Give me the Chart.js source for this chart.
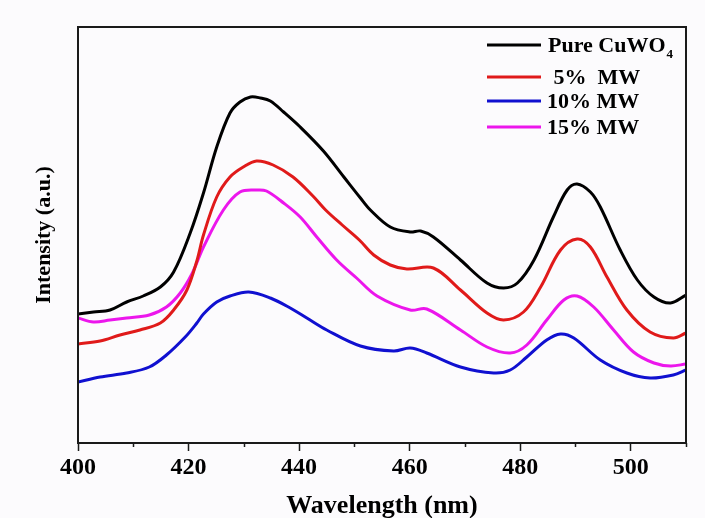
<!DOCTYPE html>
<html>
<head>
<meta charset="utf-8">
<script src="https://cdn.jsdelivr.net/npm/chart.js@4.4.1/dist/chart.umd.min.js"></script>
<style>
  html, body { margin: 0; padding: 0; background: #fcfbfd; }
  #wrap { width: 705px; height: 518px; position: relative; }
</style>
</head>
<body>
<div id="wrap"><canvas id="pl"></canvas></div>
<script>
// Wavelength ticks (nm)
var xMin = 400, xMax = 510;
var tickLabels = ['400', '420', '440', '460', '480', '500'];

// Pure CuWO4
var pureNm  = [400, 402.8, 405.8, 408.8, 411.8, 414.9, 417.3, 420.3, 422.7, 425.1, 427.5, 429.3, 431.2, 433, 434.8, 437.2, 440.2, 444.4, 448.1, 451.1, 452.9, 456.5, 460.1, 462, 464.3, 469.2, 474, 477, 479.5, 482.5, 486, 488.5, 490.3, 492.7, 494.5, 498.1, 501.2, 504.2, 507.2, 510];
var pureVal = [129, 131, 133, 141, 147, 156, 171, 210, 250, 296, 330, 341, 346, 345, 342, 331, 316, 292, 266, 245, 233, 216, 211, 212, 206, 183, 160, 155, 160, 183, 226, 253, 259, 251, 236, 193, 163, 146, 140, 148];

// 5% MW
var mw5Nm  = [400, 404, 407.6, 411.2, 414.9, 417.3, 419.7, 421.5, 422.7, 425.1, 427.5, 429.9, 432.3, 435.3, 438.9, 442.5, 444.8, 447.8, 450.9, 453.5, 456.5, 459.5, 464.3, 469.2, 474, 477, 480.6, 483.7, 487.3, 490.3, 492.7, 495.7, 499.3, 503.5, 507.7, 510];
var mw5Val = [99, 102, 108, 113, 120, 133, 153, 182, 208, 246, 266, 276, 282, 278, 266, 247, 233, 218, 203, 188, 178, 174, 175, 153, 130, 123, 131, 156, 193, 204, 196, 166, 133, 111, 105, 110];

// 10% MW
var mw10Nm  = [400, 404, 408.8, 412.9, 416, 419.4, 421.5, 422.7, 425.1, 427.5, 430.9, 434.8, 438.4, 441.4, 445, 451.1, 457.1, 460.1, 463.1, 469.2, 475.2, 478.2, 481.2, 484.8, 487.3, 489.7, 494.5, 499.3, 503.5, 507.7, 510];
var mw10Val = [61, 66, 70, 76, 88, 106, 120, 129, 141, 147, 151, 145, 135, 125, 113, 97, 92, 95, 90, 76, 70, 73, 86, 103, 109, 105, 83, 70, 65, 68, 73];

// 15% MW
var mw15Nm  = [400, 402.8, 405.8, 408.8, 412.9, 416, 418.5, 420.6, 422.7, 426.3, 429.3, 432.3, 434.1, 437.2, 440.2, 443.2, 446.8, 450.4, 454.1, 460.1, 463.1, 469.2, 474, 478.2, 481.2, 484.8, 487.9, 490.3, 493.3, 496.9, 500.5, 504.2, 507.2, 510];
var mw15Val = [125, 121, 123, 125, 128, 136, 150, 169, 196, 233, 251, 253, 252, 240, 226, 206, 183, 165, 147, 133, 134, 113, 96, 90, 98, 123, 143, 147, 136, 113, 91, 80, 77, 79];

var seriesLabels = ['Pure CuWO\u2084', ' 5%  MW', '10% MW', '15% MW'];
var seriesColors = ['#000000', '#e01a1a', '#1010d0', '#ec16ec'];

function pts(xs, ys) {
  return xs.map(function (x, i) { return { x: x, y: ys[i] }; });
}

var FONT = '"Liberation Serif", "Times New Roman", serif';

// frame around the plot + minor x ticks
var framePlugin = {
  id: 'frame',
  afterDraw: function (chart) {
    var c = chart.ctx, a = chart.chartArea, xs = chart.scales.x;
    c.save();
    c.strokeStyle = '#1a1a1a';
    c.lineWidth = 2;
    c.strokeRect(a.left, a.top, a.right - a.left, a.bottom - a.top);
    c.lineWidth = 1.5;
    for (var v = xMin + 10; v <= xMax; v += 20) {
      var px = Math.round(xs.getPixelForValue(v)) + 0.5;
      c.beginPath();
      c.moveTo(px, a.bottom);
      c.lineTo(px, a.bottom + 4);
      c.stroke();
    }
    c.restore();
  }
};

// legend at top right, with subscript
var legendPlugin = {
  id: 'sideLegend',
  afterDraw: function (chart) {
    var c = chart.ctx;
    var rows = [45, 77, 101, 127];
    var textX = [548, 548, 547, 547];
    c.save();
    chart.data.datasets.forEach(function (ds, i) {
      var y = rows[i];
      c.strokeStyle = ds.borderColor;
      c.lineWidth = 3;
      c.beginPath();
      c.moveTo(487, y);
      c.lineTo(541, y);
      c.stroke();
      c.fillStyle = '#000';
      c.textBaseline = 'middle';
      c.font = 'bold 22px ' + FONT;
      var txt = ds.label, sub = '';
      if (txt.indexOf('\u2084') >= 0) { txt = txt.replace('\u2084', ''); sub = '4'; }
      c.fillText(txt, textX[i], y + 1);
      if (sub) {
        var w = c.measureText(txt).width;
        c.font = 'bold 13px ' + FONT;
        c.fillText(sub, textX[i] + w + 1, y + 10);
      }
    });
    c.restore();
  }
};

var datasets = [
  pts(pureNm, pureVal), pts(mw5Nm, mw5Val), pts(mw10Nm, mw10Val), pts(mw15Nm, mw15Val)
].map(function (d, i) {
  return {
    label: seriesLabels[i],
    data: d,
    borderColor: seriesColors[i],
    backgroundColor: seriesColors[i],
    borderWidth: 3,
    pointRadius: 0,
    fill: false,
    tension: 0.35
  };
});

new Chart(document.getElementById('pl').getContext('2d'), {
  type: 'line',
  data: { datasets: datasets },
  options: {
    responsive: true,
    maintainAspectRatio: false,
    animation: false,
    layout: { padding: { left: 0, top: 27, right: 19, bottom: 0 } },
    plugins: { legend: { display: false }, tooltip: { enabled: false } },
    scales: {
      x: {
        type: 'linear',
        min: xMin,
        max: xMax,
        afterFit: function (s) { s.height = 75; },
        ticks: {
          stepSize: 10,
          autoSkip: false,
          maxRotation: 0,
          padding: 2,
          color: '#000',
          font: { family: FONT, size: 24, weight: 'bold' },
          callback: function (v) {
            var s = String(v);
            return tickLabels.indexOf(s) >= 0 ? s : '';
          }
        },
        grid: {
          drawOnChartArea: false,
          tickLength: 8,
          tickWidth: 1.5,
          tickColor: function (ctx) {
            return ctx.tick && ctx.tick.value % 20 === 0 ? '#1a1a1a' : 'rgba(0,0,0,0)';
          }
        },
        border: { display: true, color: '#1a1a1a', width: 2 },
        title: {
          display: true,
          text: 'Wavelength (nm)',
          color: '#000',
          font: { family: FONT, size: 26, weight: 'bold' },
          padding: { top: 2, bottom: -4 }
        }
      },
      y: {
        min: 0,
        max: 416,
        afterFit: function (s) { s.width = 78; },
        ticks: { display: false },
        grid: { display: false },
        border: { display: true, color: '#1a1a1a', width: 2 },
        title: {
          display: true,
          text: 'Intensity (a.u.)',
          color: '#000',
          font: { family: FONT, size: 22, weight: 'bold' },
          padding: { top: 31, bottom: 0 }
        }
      }
    }
  },
  plugins: [framePlugin, legendPlugin]
});
</script>
</body>
</html>
